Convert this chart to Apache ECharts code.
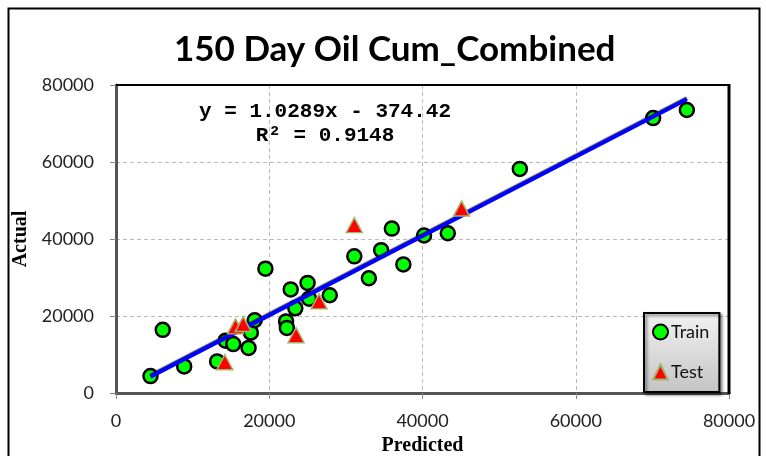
<!DOCTYPE html>
<html>
<head>
<meta charset="utf-8">
<script src="https://cdn.jsdelivr.net/npm/echarts@6/dist/echarts.min.js"></script>
<style>
html,body{margin:0;padding:0;background:#fff;}
#c{width:766px;height:456px;}
</style>
</head>
<body>
<div id="c"></div>
<script>
// ---- data ----
var titleText = '150 Day Oil Cum_Combined';
var xAxisName = 'Predicted';
var yAxisName = 'Actual';
var axisTicks = [0, 20000, 40000, 60000, 80000];
var trainPredicted = [4500, 6100, 8900, 13200, 14300, 15300, 17300, 17600, 18100, 19500, 22200, 22300, 22800, 23400, 25000, 25200, 27900, 31100, 33000, 34600, 36000, 37500, 40200, 43300, 52700, 70100, 74500];
var trainActual    = [4400, 16400, 6900, 8200, 13600, 12700, 11700, 15700, 18900, 32300, 18600, 16900, 26900, 22000, 28600, 24500, 25400, 35500, 29800, 37100, 42700, 33400, 40900, 41500, 58200, 71400, 73500];
var testPredicted  = [14200, 15600, 16600, 23500, 26500, 31100, 45100];
var testActual     = [8000, 17300, 17900, 15000, 23800, 43600, 47900];
var trendSlope = 1.0289;
var trendIntercept = -374.42;
var rSquared = 0.9148;
var seriesNames = ['Train', 'Test'];

// ---- build ----
function pairs(xs, ys){ return xs.map(function(x,i){ return [x, ys[i]]; }); }
var xMin = Math.min.apply(null, trainPredicted), xMax = Math.max.apply(null, trainPredicted);
var trendData = [[xMin, trendSlope*xMin + trendIntercept], [xMax, trendSlope*xMax + trendIntercept]];
var eqText = 'y = ' + trendSlope.toFixed(4) + 'x - ' + Math.abs(trendIntercept).toFixed(2) + '\nR\u00B2 = ' + rSquared.toFixed(4);

var chart = echarts.init(document.getElementById('c'), null, {renderer:'canvas'});
var axisCommon = {
  type: 'value', min: axisTicks[0], max: axisTicks[axisTicks.length-1], interval: axisTicks[1]-axisTicks[0],
  nameLocation: 'middle',
  nameTextStyle: {fontFamily: 'Liberation Serif', fontWeight: 'bold', fontSize: 20, color: '#000'},
  axisLine: {show: true, onZero: false, lineStyle: {color: '#555', width: 3}},
  axisTick: {show: true, inside: false, length: 6, lineStyle: {color: '#888', width: 1}},
  axisLabel: {fontFamily: 'Lato', fontSize: 18, color: '#222', margin: 22, formatter: function(v){ return String(v); }},
  splitLine: {show: true, showMinLine: false, showMaxLine: false, lineStyle: {color: '#bbb', type: [4,3], width: 1}}
};
chart.setOption({
  animation: false,
  backgroundColor: '#fff',
  title: {text: titleText, left: 169, top: 27, textStyle: {fontFamily: 'Lato', fontWeight: 'bold', fontSize: 35, color: '#000'}},
  grid: {left: 116, top: 85, width: 613, height: 308, show: false, containLabel: false, outerBoundsMode: 'none'},
  xAxis: Object.assign({}, axisCommon, {name: xAxisName, nameGap: 43, axisLabel: Object.assign({}, axisCommon.axisLabel, {margin: 19})}),
  yAxis: Object.assign({}, axisCommon, {name: yAxisName, nameGap: 73}),
  legend: {
    orient: 'vertical', left: 644, top: 313,
    data: seriesNames,
    itemWidth: 15, itemHeight: 15, itemGap: 22,
    padding: [10, 10, 11, 8],
    textStyle: {fontFamily: 'Lato', fontSize: 18, color: '#111', padding: [0,0,0,-2]},
    backgroundColor: new echarts.graphic.LinearGradient(0,0,0,1,[{offset:0,color:'#f2f2f2'},{offset:1,color:'#c4c4c4'}]),
    borderColor: '#000', borderWidth: 2,
    shadowColor: 'rgba(0,0,0,0.5)', shadowBlur: 3, shadowOffsetX: 2, shadowOffsetY: 2
  },
  graphic: [
    {type: 'rect', left: 6, top: 6, shape: {width: 751, height: 470}, style: {fill: 'none', stroke: '#000', lineWidth: 2}, z: 100},
    {type: 'line', shape: {x1: 116, y1: 85, x2: 729, y2: 85}, style: {stroke: '#000', lineWidth: 2}, z: 90},
    {type: 'line', shape: {x1: 729, y1: 84, x2: 729, y2: 394}, style: {stroke: '#000', lineWidth: 3}, z: 90},
    {type: 'text', x: 325, y: 100, style: {text: eqText, fontFamily: 'Liberation Mono', fontWeight: 'bold', fontSize: 21, lineHeight: 24, fill: '#000', align: 'center'}, z: 50}
  ],
  series: [
    {name: seriesNames[0], type: 'scatter', data: pairs(trainPredicted, trainActual), symbol: 'circle', symbolSize: 14,
     itemStyle: {color: '#00ff00', borderColor: '#000', borderWidth: 2.5, opacity: 1}, z: 3},
    {name: 'trend', type: 'line', data: trendData, symbol: 'none', silent: true,
     lineStyle: {color: '#0000ff', width: 4, shadowColor: 'rgba(0,0,0,0.7)', shadowBlur: 1, shadowOffsetY: -1}, z: 4},
    {name: seriesNames[1], type: 'scatter', data: pairs(testPredicted, testActual), symbol: 'triangle', symbolSize: [16, 15],
     itemStyle: {color: '#ff0000', borderColor: '#a4b46a', borderWidth: 1.5, opacity: 1}, z: 5}
  ]
});
</script>
</body>
</html>
